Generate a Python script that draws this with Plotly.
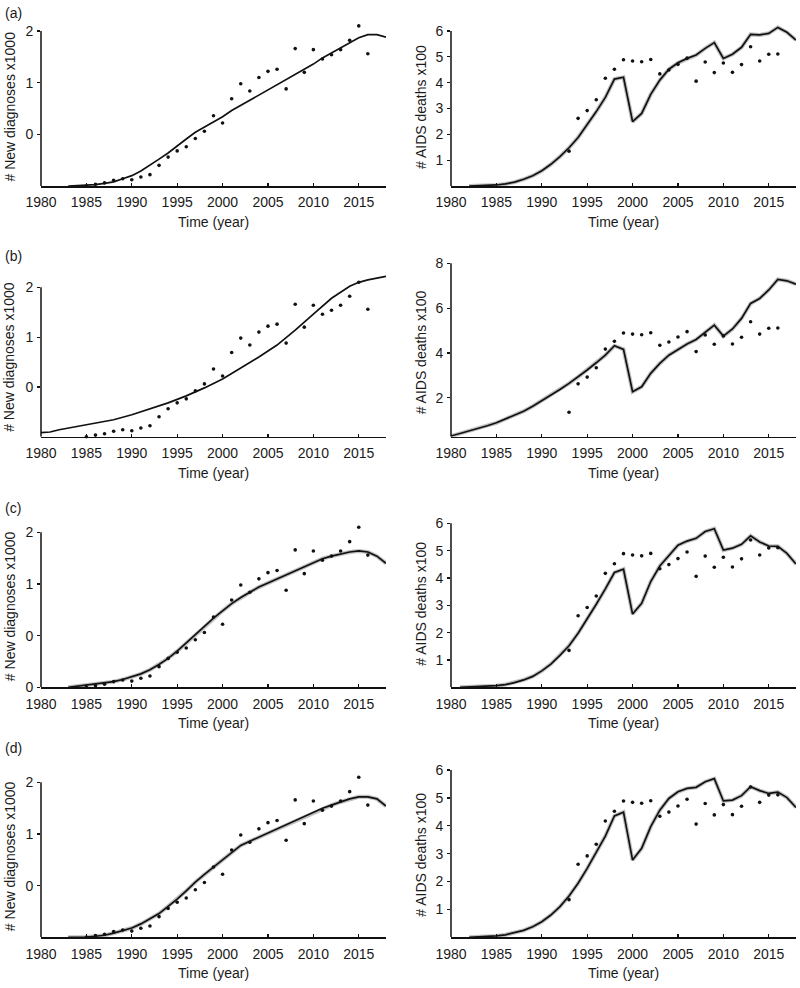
import plotly.graph_objects as go

# ---------------- data ----------------
years_obs_dx = list(range(1985, 2017))
obs_new_dx = [0.0, 0.016, 0.03, 0.055, 0.07, 0.06, 0.087, 0.11, 0.20, 0.28, 0.34, 0.38,
              0.46, 0.53, 0.68, 0.61, 0.845, 0.99, 0.92, 1.05, 1.11, 1.13, 0.94, 1.33,
              1.10, 1.32, 1.23, 1.27, 1.32, 1.41, 1.55, 1.28]

years_obs_death = list(range(1993, 2017))
obs_deaths = [1.35, 2.62, 2.92, 3.34, 4.17, 4.52, 4.89, 4.84, 4.81, 4.90, 4.34, 4.49,
              4.71, 4.95, 4.06, 4.80, 4.39, 4.76, 4.40, 4.70, 5.39, 4.84, 5.10, 5.11]

# model fits: new diagnoses (x1000)
years_a_dx = list(range(1983, 2019))
fit_a_dx = [0.0, 0.002, 0.006, 0.013, 0.026, 0.04, 0.07, 0.10, 0.145, 0.20, 0.26, 0.32,
            0.39, 0.455, 0.52, 0.57, 0.62, 0.67, 0.73, 0.78, 0.83, 0.88, 0.93, 0.98,
            1.03, 1.08, 1.13, 1.18, 1.24, 1.29, 1.34, 1.39, 1.435, 1.465, 1.465, 1.44]

years_b_dx = [1980, 1981, 1982, 1985, 1988, 1990, 1992, 1994, 1996, 1998, 2000, 2002,
              2004, 2006, 2008, 2010, 2012, 2014, 2015, 2016, 2017, 2018]
fit_b_dx = [0.04, 0.047, 0.07, 0.12, 0.17, 0.22, 0.28, 0.34, 0.41, 0.49, 0.58, 0.69,
            0.80, 0.92, 1.07, 1.23, 1.39, 1.51, 1.55, 1.575, 1.59, 1.61]

years_c_dx = list(range(1983, 2019))
fit_c_dx = [0.0, 0.01, 0.02, 0.03, 0.04, 0.055, 0.075, 0.10, 0.13, 0.17, 0.22, 0.28,
            0.35, 0.43, 0.51, 0.59, 0.67, 0.74, 0.81, 0.87, 0.92, 0.97, 1.01, 1.05,
            1.09, 1.13, 1.17, 1.21, 1.245, 1.27, 1.29, 1.31, 1.32, 1.31, 1.27, 1.20]

years_d_dx = list(range(1983, 2019))
fit_d_dx = [0.0, 0.0, 0.003, 0.01, 0.02, 0.04, 0.065, 0.09, 0.13, 0.18, 0.23, 0.30,
            0.37, 0.45, 0.535, 0.61, 0.68, 0.75, 0.82, 0.89, 0.93, 0.97, 1.01, 1.05,
            1.09, 1.13, 1.17, 1.21, 1.25, 1.28, 1.31, 1.34, 1.36, 1.36, 1.34, 1.27]

# model fits: AIDS deaths (x100)
years_a_death = list(range(1982, 2019))
fit_a_death = [0.0, 0.01, 0.02, 0.04, 0.08, 0.15, 0.26, 0.40, 0.59, 0.84, 1.14, 1.48,
               1.88, 2.36, 2.88, 3.43, 4.14, 4.21, 2.49, 2.81, 3.55, 4.10, 4.52, 4.77,
               4.94, 5.07, 5.33, 5.55, 4.94, 5.10, 5.37, 5.87, 5.85, 5.91, 6.14, 5.95, 5.65]

years_b_death = list(range(1980, 2019))
fit_b_death = [0.29, 0.40, 0.51, 0.63, 0.75, 0.88, 1.05, 1.22, 1.40, 1.62, 1.87, 2.10,
               2.37, 2.64, 2.93, 3.24, 3.56, 3.90, 4.32, 4.16, 2.27, 2.49, 3.09, 3.53,
               3.90, 4.17, 4.40, 4.60, 4.90, 5.24, 4.75, 5.07, 5.54, 6.21, 6.43, 6.81,
               7.28, 7.22, 7.07]

years_c_death = list(range(1981, 2019))
fit_c_death = [0.0, 0.01, 0.02, 0.03, 0.06, 0.10, 0.17, 0.27, 0.40, 0.60, 0.85, 1.17,
               1.52, 1.98, 2.49, 3.04, 3.60, 4.20, 4.32, 2.68, 3.07, 3.87, 4.44, 4.84,
               5.20, 5.35, 5.45, 5.70, 5.80, 5.02, 5.09, 5.23, 5.54, 5.32, 5.17, 5.16,
               4.90, 4.51]

years_d_death = list(range(1982, 2019))
fit_d_death = [0.0, 0.01, 0.02, 0.05, 0.09, 0.16, 0.25, 0.38, 0.56, 0.80, 1.10, 1.48,
               1.94, 2.47, 3.03, 3.63, 4.35, 4.49, 2.77, 3.19, 3.97, 4.56, 4.98, 5.22,
               5.34, 5.38, 5.58, 5.69, 4.89, 4.92, 5.08, 5.40, 5.26, 5.16, 5.21, 5.01, 4.66]

panel_labels = ["(a)", "(b)", "(c)", "(d)"]
dx_tickvals = [0.5, 1.0, 1.5]
dx_ticktext = ["0", "1", "2"]
dx_tickvals_c = [0.0, 0.5, 1.0, 1.5]
dx_ticktext_c = ["0", "0", "1", "2"]
death_ticks_6 = [1, 2, 3, 4, 5, 6]
death_ticks_8 = [2, 4, 6, 8]
x_ticks = [1980, 1985, 1990, 1995, 2000, 2005, 2010, 2015]

# ---------------- layout geometry (pixels) ----------------
W, H = 800, 988
FONT = "Liberation Sans, Arial, sans-serif"
TXT = "#1a1a1a"
FS = 14

left_x = (41, 386)
right_x = (451, 796)

# per panel: (bottom_px, px_per_unit, top_px, range_min, top_tick_value)
geom = [
    (186.0, 103.3, 16, 0.0, 1.5),   # a left
    (186.0, 25.83, 16, 0.0, 6),     # a right
    (436.7, 99.6, 266, 0.0, 1.5),   # b left
    (436.7, 22.4, 256, 0.26, 8),    # b right
    (687.3, 103.3, 514, 0.0, 1.5),  # c left
    (687.3, 27.33, 508, 0.0, 6),    # c right
    (937.3, 103.3, 764, 0.0, 1.5),  # d left
    (937.3, 27.88, 760, 0.0, 6),    # d right
]

dx_series = [(years_a_dx, fit_a_dx), (years_b_dx, fit_b_dx),
             (years_c_dx, fit_c_dx), (years_d_dx, fit_d_dx)]
death_series = [(years_a_death, fit_a_death), (years_b_death, fit_b_death),
                (years_c_death, fit_c_death), (years_d_death, fit_d_death)]

fig = go.Figure()
layout = dict(
    template="none",
    width=W, height=H, margin=dict(l=0, r=0, t=0, b=0, pad=0, autoexpand=False),
    paper_bgcolor="white", plot_bgcolor="white", showlegend=False,
    font=dict(family=FONT, size=FS, color=TXT),
)
shapes = []
annotations = []

for i in range(8):
    row, col = divmod(i, 2)
    n = i + 1
    xs = "" if n == 1 else str(n)
    bottom, ppu, top, rmin, toptick = geom[i]
    rmax = rmin + (bottom - top) / ppu
    xd = left_x if col == 0 else right_x

    if col == 0:
        yrs, fit = dx_series[row]
        oy, ov = years_obs_dx, obs_new_dx
        if row == 2:
            tv, tt = dx_tickvals_c, dx_ticktext_c
        else:
            tv, tt = dx_tickvals, dx_ticktext
        ytitle = "# New diagnoses x1000"
        band = row >= 2
    else:
        yrs, fit = death_series[row]
        oy, ov = years_obs_death, obs_deaths
        tv = death_ticks_8 if row == 1 else death_ticks_6
        tt = [str(v) for v in tv]
        ytitle = "# AIDS deaths x100"
        band = True

    if band:
        fig.add_trace(go.Scatter(x=yrs, y=fit, mode="lines", xaxis="x" + xs, yaxis="y" + xs,
                                 line=dict(color="rgba(150,150,150,0.6)", width=4),
                                 hoverinfo="skip"))
    fig.add_trace(go.Scatter(x=yrs, y=fit, mode="lines", xaxis="x" + xs, yaxis="y" + xs,
                             line=dict(color="#111", width=1.7)))
    fig.add_trace(go.Scatter(x=oy, y=ov, mode="markers", xaxis="x" + xs, yaxis="y" + xs,
                             marker=dict(color="#111", size=3.6, line=dict(width=0)),
                             cliponaxis=False))

    layout["xaxis" + xs] = dict(
        domain=[xd[0] / W, xd[1] / W], range=[1980, 2018], anchor="y" + xs,
        automargin=False,
        tickvals=x_ticks, ticks="inside", ticklen=3, tickwidth=1.2, tickcolor="#111",
        showline=True, linecolor="#111", linewidth=1.5, showgrid=False, zeroline=False,
        tickfont=dict(family=FONT, size=FS, color=TXT), ticklabelstandoff=3,
    )
    layout["yaxis" + xs] = dict(
        domain=[1 - bottom / H, 1 - top / H], range=[rmin, rmax], anchor="x" + xs,
        automargin=False,
        tickvals=tv, ticktext=tt, ticks="outside", ticklen=3, tickwidth=1.2, tickcolor="#111",
        showline=False, showgrid=False, zeroline=False,
        tickfont=dict(family=FONT, size=FS, color=TXT), ticklabelstandoff=1,
    )
    # y axis line from the bottom up to the top tick
    shapes.append(dict(type="line", xref="x" + xs + " domain", yref="y" + xs,
                       x0=0, x1=0, y0=rmin, y1=toptick,
                       line=dict(color="#111", width=1.5), layer="above"))

    # axis titles
    annotations.append(dict(text="Time (year)", xref="paper", yref="paper",
                            x=(xd[0] + xd[1]) / 2 / W, y=1 - (bottom + 36) / H,
                            showarrow=False, xanchor="center", yanchor="middle",
                            font=dict(family=FONT, size=FS, color=TXT)))
    tx = 9.5 if col == 0 else 421
    annotations.append(dict(text=ytitle, xref="paper", yref="paper",
                            x=tx / W, y=1 - ((bottom + top) / 2 + 6) / H, textangle=-90,
                            showarrow=False, xanchor="center", yanchor="middle",
                            font=dict(family=FONT, size=FS, color=TXT)))

label_y = [13, 256, 508, 748]
for r in range(4):
    annotations.append(dict(text=panel_labels[r], xref="paper", yref="paper",
                            x=3 / W, y=1 - label_y[r] / H, showarrow=False,
                            xanchor="left", yanchor="middle",
                            font=dict(family=FONT, size=FS, color=TXT)))

layout["shapes"] = shapes
layout["annotations"] = annotations
fig.update_layout(**layout)
fig.write_html("out.html",
               config={"staticPlot": True, "displayModeBar": False},
               post_script="document.body.style.margin='0';document.body.style.overflow='hidden';")
